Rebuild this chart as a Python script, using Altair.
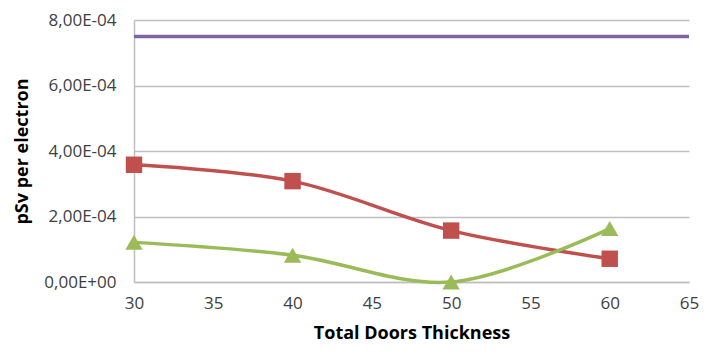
import altair as alt
import pandas as pd

thickness = [30, 40, 50, 60]
red_values = [3.58e-4, 3.08e-4, 1.57e-4, 0.71e-4]
green_values = [1.21e-4, 0.82e-4, 0.0, 1.63e-4]
limit_value = [7.5e-4]
x_ticks = [30, 35, 40, 45, 50, 55, 60, 65]
y_ticks = [0, 2e-4, 4e-4, 6e-4, 8e-4]

red_df = pd.DataFrame({"x": thickness, "y": red_values})
green_df = pd.DataFrame({"x": thickness, "y": green_values})
limit_df = pd.DataFrame({"y": limit_value})

FONT = "Open Sans"
RED = "#C0504D"
GREEN = "#9BBB59"
PURPLE = "#8064A2"

x_enc = alt.X(
    "x:Q",
    scale=alt.Scale(domain=[30, 65], nice=False, zero=False),
    axis=alt.Axis(
        values=x_ticks,
        title="Total Doors Thickness",
        grid=False,
        ticks=False,
        domainColor="#BFBFBF",
        domainWidth=1.5,
        labelFont=FONT,
        labelFontSize=17,
        labelColor="#404040",
        labelPadding=13,
        labelFlush=False,
        titleFont=FONT,
        titleFontSize=18,
        titleFontWeight="bold",
        titleColor="#000000",
        titlePadding=13,
    ),
)
y_enc = alt.Y(
    "y:Q",
    scale=alt.Scale(domain=[0, 8e-4], nice=False),
    axis=alt.Axis(
        values=y_ticks,
        title="pSv per electron",
        labelExpr="replace(replace(replace(format(datum.value, '.2e'), '.', ','), 'e-', 'E-0'), 'e+', 'E+0')",
        grid=True,
        gridColor="#BFBFBF",
        gridWidth=1.5,
        ticks=False,
        domainColor="#BFBFBF",
        domainWidth=1.5,
        labelFont=FONT,
        labelFontSize=17,
        labelColor="#404040",
        labelPadding=18,
        labelFlush=False,
        titleFont=FONT,
        titleFontSize=18,
        titleFontWeight="bold",
        titleColor="#000000",
        titlePadding=12,
    ),
)

red_line = alt.Chart(red_df).mark_line(
    color=RED, strokeWidth=3.5, interpolate="catmull-rom"
).encode(x=x_enc, y=y_enc)
red_pts = alt.Chart(red_df).mark_point(
    shape="square", filled=True, color=RED, size=270, opacity=1
).encode(x="x:Q", y="y:Q")

green_line = alt.Chart(green_df).mark_line(
    color=GREEN, strokeWidth=3.5, interpolate="catmull-rom"
).encode(x="x:Q", y="y:Q")
green_pts = alt.Chart(green_df).mark_point(
    shape="triangle-up", filled=True, color=GREEN, size=300, opacity=1
).encode(x="x:Q", y="y:Q")

limit_rule = alt.Chart(limit_df).mark_rule(color=PURPLE, strokeWidth=3.5).encode(y="y:Q")

chart = alt.layer(red_line, red_pts, green_line, green_pts, limit_rule).properties(
    width=555,
    height=262,
    autosize=alt.AutoSizeParams(type="none"),
    padding={"left": 126, "top": 12, "right": 12, "bottom": 64},
    background="white",
).configure_view(stroke=None)

chart.save("out.html", embed_options={"renderer": "svg", "actions": False})
